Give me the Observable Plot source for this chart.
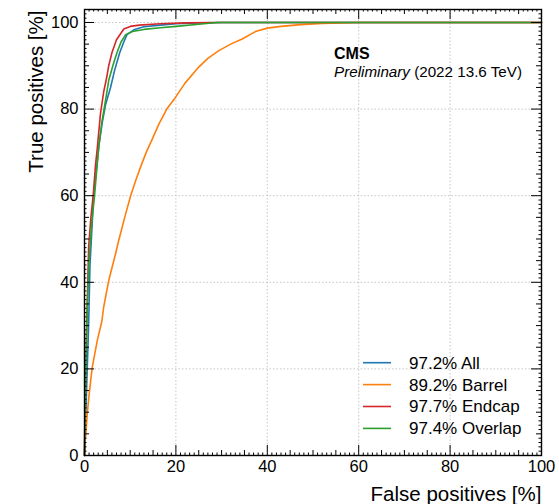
<!DOCTYPE html>
<html><head><meta charset="utf-8">
<script src="https://cdn.jsdelivr.net/npm/d3@7"></script>
<script src="https://cdn.jsdelivr.net/npm/@observablehq/plot@0.6"></script>
<style>body{margin:0;background:#fff} svg{display:block}</style>
</head><body><div id="chart"></div>
<script>
// ---- data ----
const seriesNames = ["97.2% All", "89.2% Barrel", "97.7% Endcap", "97.4% Overlap"];
const seriesColors = ["#1f77b4", "#ff7f0e", "#d62728", "#2ca02c"];

const allFpr = [0, 0.3, 0.6, 0.9, 1.2, 1.6, 2.0, 2.6, 3.2, 3.9, 4.6, 5.7, 6.6, 7.7, 8.6, 9.3, 10.8, 13, 16.6, 20, 25, 30, 100];
const allTpr = [0, 10, 20, 30, 44, 52, 60, 66, 72, 77, 81, 85, 89, 93, 95.5, 97.2, 98.3, 99.0, 99.4, 99.7, 99.9, 100, 100];

const barrelFpr = [0, 0.1, 0.3, 0.6, 1.0, 1.7, 2.8, 3.8, 4.2, 5.3, 6.8, 7.4, 9.0, 10.1, 11.2, 12.4, 13.5, 14.8, 16.3, 18, 19.9, 22, 25, 27, 29.4, 32, 34.5, 37.4, 40, 43, 47.3, 52, 60, 100];
const barrelTpr = [0, 3, 5, 9.6, 14, 20.4, 26.6, 31, 34.3, 40.4, 46.6, 49.3, 55.8, 60, 63.5, 67, 70, 73, 76.6, 80, 82.7, 86, 89.7, 91.7, 93.5, 95, 96.2, 97.9, 98.7, 99.1, 99.5, 99.8, 100, 100];

const endcapFpr = [0, 0.1, 0.3, 0.6, 0.9, 1.4, 1.9, 2.4, 2.8, 3.5, 4.2, 4.8, 5.3, 6.0, 7.0, 8.6, 10, 12, 16.6, 22, 30, 100];
const endcapTpr = [0, 10, 20, 35, 48, 55, 60, 67, 71, 79, 84, 87, 90, 93, 96, 98.5, 99.1, 99.4, 99.7, 99.9, 100, 100];

const overlapFpr = [0, 0.1, 0.3, 0.5, 1.0, 1.6, 2.2, 2.6, 3.1, 3.8, 4.6, 5.3, 6.2, 7.1, 8.0, 9.0, 10.5, 13, 16.6, 20, 25, 29, 100];
const overlapTpr = [0, 10, 20, 31, 45, 54, 60, 65, 71, 77, 82, 86.6, 90, 93, 95.5, 97.2, 97.9, 98.4, 98.8, 99.1, 99.6, 100, 100];

const xTicks = [0, 20, 40, 60, 80, 100];
const yTicks = [0, 20, 40, 60, 80, 100];
const xLabel = "False positives [%]";
const yLabel = "True positives [%]";
const expName = "CMS";
const expStatus = "Preliminary";
const expInfo = " (2022 13.6 TeV)";

// ---- build table ----
const seriesFpr = [allFpr, barrelFpr, endcapFpr, overlapFpr];
const seriesTpr = [allTpr, barrelTpr, endcapTpr, overlapTpr];
const rows = seriesNames.flatMap((name, s) =>
  seriesFpr[s].map((fp, i) => ({series: name, fpr: fp, tpr: seriesTpr[s][i]})));

// ---- layout ----
const W = 559, H = 504;
const mT = 9, mR = 18, mB = 49, mL = 84;
const plotW = W - mL - mR, plotH = H - mT - mB;
const font = "'Liberation Sans', Arial, Helvetica, sans-serif";

const xMinor = d3.range(0, 101, 5).filter(v => v % 20 !== 0);
const yMinor = d3.range(0, 104, 5).filter(v => v % 20 !== 0);
const xTiny = d3.range(0, 101, 1).filter(v => v % 5 !== 0);
const yTiny = d3.range(0, 104, 1).filter(v => v % 5 !== 0);

function ticksX(vals, len) {
  return [
    Plot.tickX(vals, {x: d => d, insetTop: plotH - len, stroke: "black", strokeWidth: 1}),
    Plot.tickX(vals, {x: d => d, insetBottom: plotH - len, stroke: "black", strokeWidth: 1})
  ];
}
function ticksY(vals, len) {
  return [
    Plot.tickY(vals, {y: d => d, insetRight: plotW - len, stroke: "black", strokeWidth: 1}),
    Plot.tickY(vals, {y: d => d, insetLeft: plotW - len, stroke: "black", strokeWidth: 1})
  ];
}

const chart = Plot.plot({
  width: W, height: H,
  marginTop: mT, marginRight: mR, marginBottom: mB, marginLeft: mL,
  style: {fontFamily: font, background: "#fff", overflow: "visible"},
  x: {domain: [0, 100], axis: null},
  y: {domain: [0, 103], axis: null},
  color: {domain: seriesNames, range: seriesColors},
  marks: [
    Plot.gridX(xTicks.filter(v => v > 0), {stroke: "#b8b8b8", strokeOpacity: 1, strokeDasharray: "1.5,2", strokeWidth: 0.8}),
    Plot.gridY(yTicks.filter(v => v > 0), {stroke: "#b8b8b8", strokeOpacity: 1, strokeDasharray: "1.5,2", strokeWidth: 0.8}),
    Plot.line(rows, {x: "fpr", y: "tpr", z: "series", stroke: "series", strokeWidth: 1.6, curve: "linear"}),
    ...ticksX(xTicks, 10), ...ticksX(xMinor, 5), ...ticksX(xTiny, 2.5),
    ...ticksY(yTicks, 10), ...ticksY(yMinor, 5), ...ticksY(yTiny, 2.5),
    Plot.frame({stroke: "black", strokeWidth: 1.4}),
    Plot.axisX(xTicks, {anchor: "bottom", tickSize: 0, tickPadding: 5, fontSize: 16.5, label: null, tickFormat: d => String(d)}),
    Plot.axisY(yTicks, {anchor: "left", tickSize: 0, tickPadding: 6, fontSize: 16.5, label: null, tickFormat: d => String(d)}),
    Plot.text([xLabel], {text: d => d, frameAnchor: "bottom-right", textAnchor: "end", lineAnchor: "bottom", dy: 45, fontSize: 20.5}),
    Plot.text([yLabel], {text: d => d, frameAnchor: "top-left", rotate: -90, textAnchor: "end", lineAnchor: "bottom", dx: -42, dy: 1, fontSize: 20.5})
  ]
});
document.getElementById("chart").appendChild(chart);

// ---- annotation and legend ----
const svg = d3.select(chart);
const ann = svg.append("g").attr("font-family", font).attr("fill", "black").attr("text-anchor", "start");
ann.append("text").attr("x", 334).attr("y", 59).attr("font-size", 16).attr("font-weight", "bold").text(expName);
const t2 = ann.append("text").attr("x", 334).attr("y", 76.5).attr("font-size", 15.2);
t2.append("tspan").attr("font-style", "italic").text(expStatus);
t2.append("tspan").text(expInfo);

const leg = svg.append("g").attr("font-family", font).attr("text-anchor", "start");
seriesNames.forEach((name, i) => {
  const yy = 362.7 + i * 21.9;
  leg.append("line").attr("x1", 363).attr("x2", 391).attr("y1", yy).attr("y2", yy)
    .attr("stroke", seriesColors[i]).attr("stroke-width", 1.6);
  leg.append("text").attr("x", 409).attr("y", yy).attr("dy", "0.35em")
    .attr("font-size", 17).attr("fill", "black").text(name);
});
</script>
</body></html>
